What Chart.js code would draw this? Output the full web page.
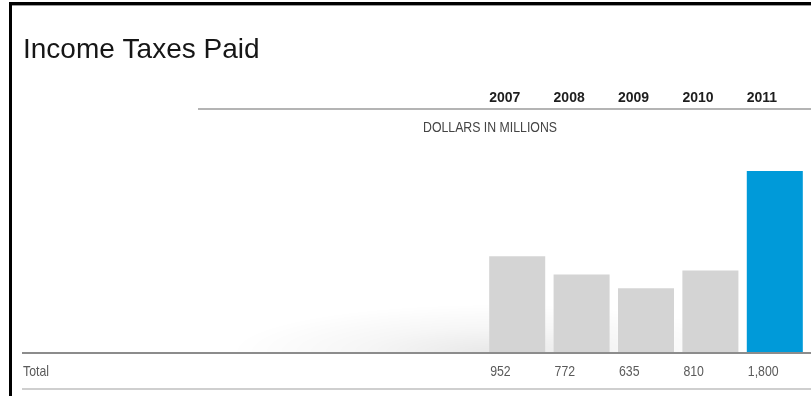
<!DOCTYPE html>
<html>
<head>
<meta charset="utf-8">
<title>Income Taxes Paid</title>
<script src="https://cdn.jsdelivr.net/npm/chart.js@4.4.1/dist/chart.umd.min.js"></script>
<style>
  html, body { margin: 0; padding: 0; background: #fff; }
  #wrap { position: relative; width: 811px; height: 396px; }
</style>
</head>
<body>
<div id="wrap"><canvas id="chart" width="811" height="396"></canvas></div>
<script>
// Income taxes paid, dollars in millions
const years = ['2007', '2008', '2009', '2010', '2011'];
const totals = [952, 772, 635, 810, 1800];
const barColors = ['#d4d4d4', '#d4d4d4', '#d4d4d4', '#d4d4d4', '#009ad9'];

const titleText = 'Income Taxes Paid';
const unitText = 'DOLLARS IN MILLIONS';
const rowLabel = 'Total';

const SANS = "'Liberation Sans', Arial, Helvetica, sans-serif";
const CONDENSE = 0.82;

// Draw text horizontally condensed, like a narrow face
function narrowText(ctx, text, x, y, align) {
  ctx.save();
  ctx.translate(x, y);
  ctx.scale(CONDENSE, 1);
  ctx.textAlign = align;
  ctx.fillText(text, 0, 0);
  ctx.restore();
}

// Frame, title, header row, table rules and the value row
const tablePlugin = {
  id: 'tableDecor',
  beforeDatasetsDraw(chart) {
    const ctx = chart.ctx;
    const area = chart.chartArea;
    const base = chart.scales.y.getPixelForValue(0);
    // soft floor shadow leading into the bars
    ctx.save();
    ctx.translate(area.left + 10, base);
    ctx.scale(265, 48);
    const g = ctx.createRadialGradient(0, 0, 0, 0, 0, 1);
    g.addColorStop(0, 'rgba(0,0,0,0.09)');
    g.addColorStop(0.5, 'rgba(0,0,0,0.035)');
    g.addColorStop(1, 'rgba(0,0,0,0)');
    ctx.fillStyle = g;
    ctx.fillRect(-1, -1, 2, 1);
    ctx.restore();
  },
  afterDatasetsDraw(chart) {
    const ctx = chart.ctx;
    const W = chart.width;
    const base = chart.scales.y.getPixelForValue(0);
    const meta = chart.getDatasetMeta(0);

    ctx.save();
    // frame edges
    ctx.fillStyle = '#000';
    ctx.fillRect(9, 2, W - 9, 3);
    ctx.fillRect(9, 2, 3, chart.height);
    ctx.fillStyle = '#9a9a9a';
    ctx.fillRect(12, 5, W - 12, 1);

    // title
    ctx.fillStyle = '#161616';
    ctx.font = '28px ' + SANS;
    ctx.textBaseline = 'alphabetic';
    ctx.textAlign = 'left';
    ctx.fillText(titleText, 23, 58);

    // header rule
    ctx.fillStyle = '#b4b4b4';
    ctx.fillRect(198, 108, W - 198, 2);

    // year labels, aligned to each bar's left edge
    ctx.fillStyle = '#1e1e1e';
    ctx.font = 'bold 14px ' + SANS;
    ctx.textBaseline = 'middle';
    meta.data.forEach((bar, i) => {
      const left = bar.x - bar.width / 2;
      ctx.fillText(years[i], left, 98);
    });

    // unit caption
    ctx.fillStyle = '#444';
    ctx.font = '15px ' + SANS;
    narrowText(ctx, unitText, 490, 128, 'center');

    // baseline and bottom rule
    ctx.fillStyle = '#8c8c8c';
    ctx.fillRect(22, base, W - 22, 2);
    ctx.fillStyle = '#cfcfcf';
    ctx.fillRect(22, 388, W - 22, 2);

    // value row
    ctx.fillStyle = '#5a5a5a';
    ctx.font = '15px ' + SANS;
    narrowText(ctx, rowLabel, 23, 372, 'left');
    meta.data.forEach((bar, i) => {
      const left = bar.x - bar.width / 2;
      narrowText(ctx, totals[i].toLocaleString('en-US'), left + 1, 372, 'left');
    });
    ctx.restore();
  }
};

new Chart(document.getElementById('chart'), {
  type: 'bar',
  data: {
    labels: years,
    datasets: [{
      data: totals,
      backgroundColor: barColors,
      borderWidth: 0,
      barPercentage: 0.87,
      categoryPercentage: 1.0
    }]
  },
  options: {
    responsive: false,
    animation: false,
    events: [],
    layout: { padding: { left: 485, right: 4, top: 151, bottom: 44 } },
    plugins: {
      legend: { display: false },
      tooltip: { enabled: false },
      title: { display: false }
    },
    scales: {
      x: { display: false, grid: { display: false } },
      y: { display: false, min: 0, max: 2000, grid: { display: false } }
    }
  },
  plugins: [tablePlugin]
});
</script>
</body>
</html>
